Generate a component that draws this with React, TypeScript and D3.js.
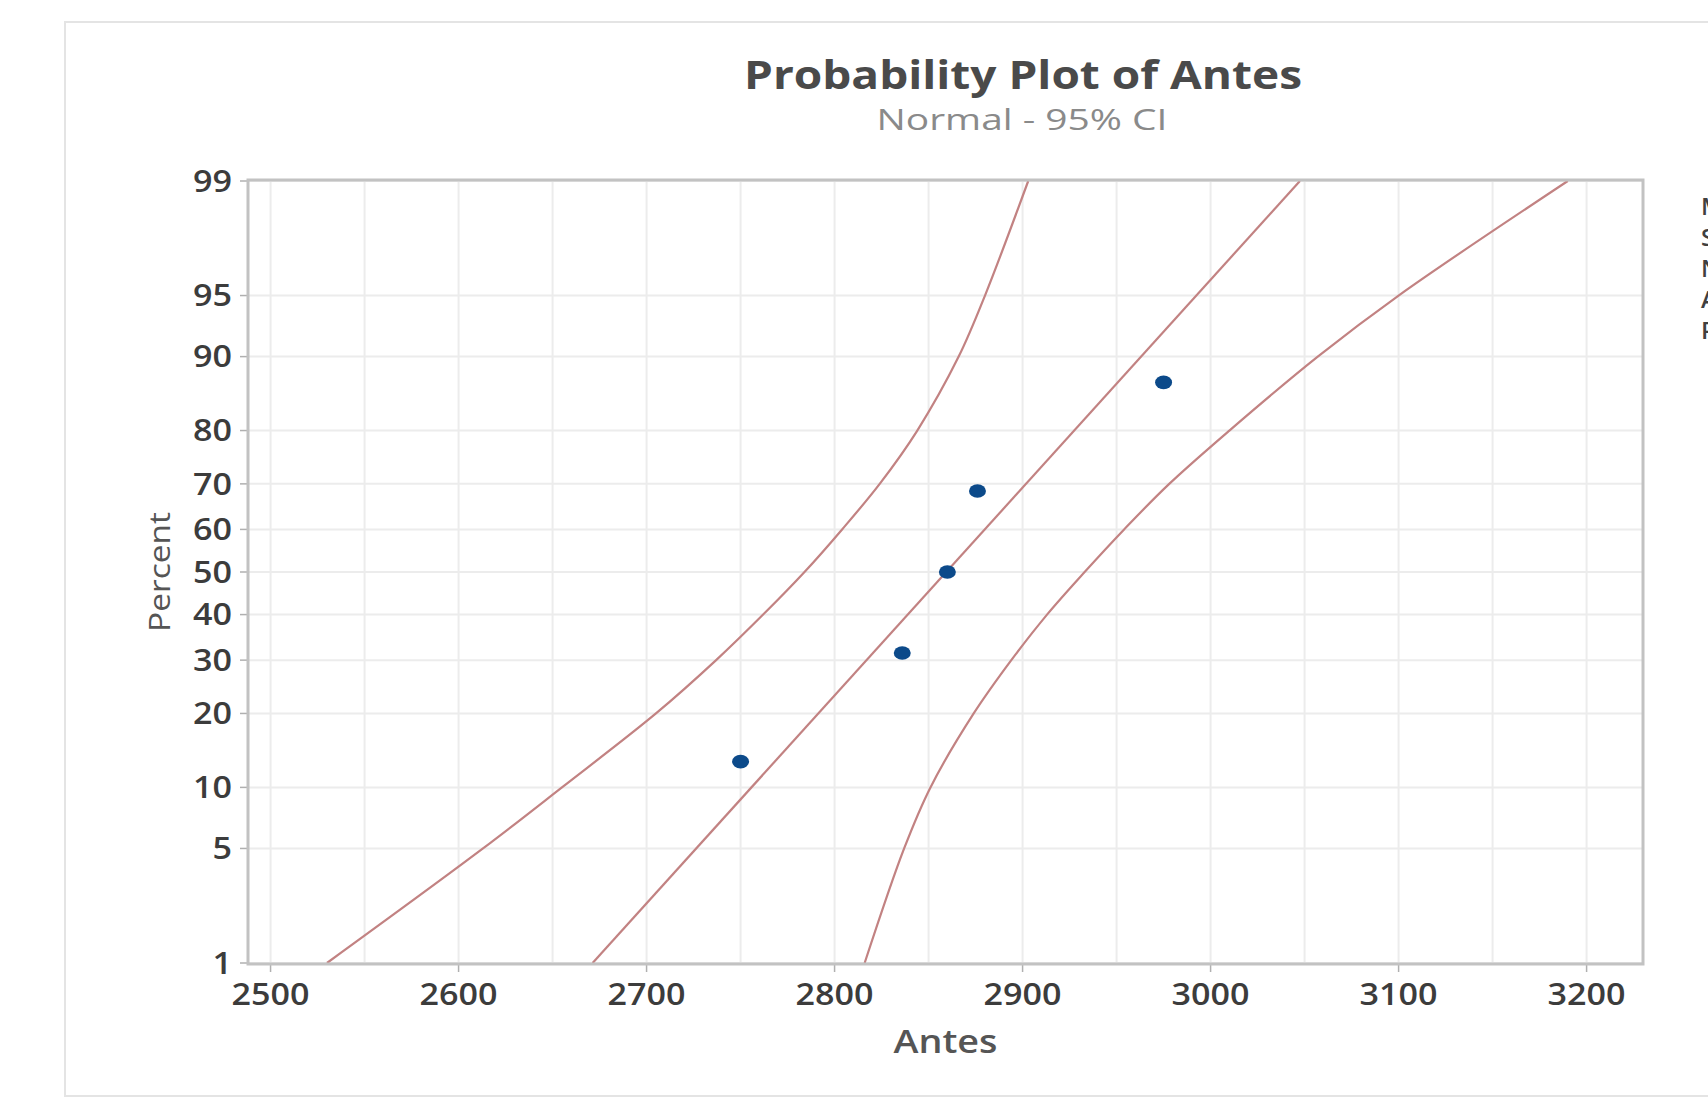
import React, { useEffect, useRef } from 'react';
import * as d3 from 'd3';

// values
const antes = [2750, 2836, 2860, 2876, 2975];
const percentTicks = [1, 5, 10, 20, 30, 40, 50, 60, 70, 80, 90, 95, 99];
const xTicks = [2500, 2600, 2700, 2800, 2900, 3000, 3100, 3200];
const ciPercents = [1, 5, 10, 20, 30, 40, 50, 60, 70, 80, 90, 95, 99];
const ciLower = [2530, 2613, 2655, 2705, 2737, 2762, 2784, 2804, 2824, 2844, 2866, 2880, 2903];
const ciUpper = [2816, 2837, 2851, 2874, 2894, 2913, 2933, 2954, 2978, 3010, 3057, 3100, 3190];
const legendLabels = ['Mean', 'StDev', 'N', 'AD', 'P-Value'];
const legendValues = ['2859', '80.93', '5', '0.303', '0.401'];

// inverse normal cdf (Acklam)
const probit = (p: number) => {
  const a = [-39.6968302866538, 220.946098424521, -275.928510446969, 138.357751867269, -30.6647980661472, 2.50662827745924];
  const b = [-54.4760987982241, 161.585836858041, -155.698979859887, 66.8013118877197, -13.2806815528857];
  const c = [-0.00778489400243029, -0.322396458041136, -2.40075827716184, -2.54973253934373, 4.37466414146497, 2.93816398269878];
  const d = [0.00778469570904146, 0.32246712907004, 2.445134137143, 3.75440866190742];
  const pl = 0.02425;
  let q, r;
  if (p < pl) {
    q = Math.sqrt(-2 * Math.log(p));
    return (((((c[0] * q + c[1]) * q + c[2]) * q + c[3]) * q + c[4]) * q + c[5]) / ((((d[0] * q + d[1]) * q + d[2]) * q + d[3]) * q + 1);
  }
  if (p > 1 - pl) {
    q = Math.sqrt(-2 * Math.log(1 - p));
    return -(((((c[0] * q + c[1]) * q + c[2]) * q + c[3]) * q + c[4]) * q + c[5]) / ((((d[0] * q + d[1]) * q + d[2]) * q + d[3]) * q + 1);
  }
  q = p - 0.5;
  r = q * q;
  return (((((a[0] * r + a[1]) * r + a[2]) * r + a[3]) * r + a[4]) * r + a[5]) * q / (((((b[0] * r + b[1]) * r + b[2]) * r + b[3]) * r + b[4]) * r + 1);
};

const W = 1708, H = 1107;
const margin = { left: 248, right: 1643, top: 180, bottom: 964 };
const font = "'Open Sans', 'Noto Sans', sans-serif";

const draw = (node: SVGSVGElement) => {
  const svg = d3.select(node);
  svg.selectAll('*').remove();

  svg.append('rect').attr('width', W).attr('height', H).attr('fill', '#fff');
  // outer frame
  svg.append('rect')
    .attr('x', 65).attr('y', 22).attr('width', 1700).attr('height', 1074)
    .attr('fill', 'none').attr('stroke', '#e4e4e4').attr('stroke-width', 2);

  const x = d3.scaleLinear().domain([2488, 3230]).range([margin.left, margin.right]);
  const zs = d3.scaleLinear().domain([probit(0.01), probit(0.99)]).range([margin.bottom - 1, margin.top + 1]);
  const y = (p: number) => zs(probit(p / 100));

  svg.append('clipPath').attr('id', 'plotclip')
    .append('rect')
    .attr('x', margin.left).attr('y', margin.top)
    .attr('width', margin.right - margin.left).attr('height', margin.bottom - margin.top);

  // grid
  const grid = svg.append('g');
  const vLines = d3.range(2500, 3230, 50);
  grid.selectAll('line.v').data(vLines).enter().append('line')
    .attr('x1', d => x(d)).attr('x2', d => x(d))
    .attr('y1', margin.top).attr('y2', margin.bottom)
    .attr('stroke', '#ececec').attr('stroke-width', 2);
  grid.selectAll('line.h').data(percentTicks).enter().append('line')
    .attr('x1', margin.left).attr('x2', margin.right)
    .attr('y1', d => y(d)).attr('y2', d => y(d))
    .attr('stroke', '#ececec').attr('stroke-width', 2);

  // axes
  const yAxis = svg.append('g');
  yAxis.selectAll('line').data(percentTicks).enter().append('line')
    .attr('x1', margin.left - 8).attr('x2', margin.left)
    .attr('y1', d => y(d)).attr('y2', d => y(d))
    .attr('stroke', '#b0b0b0').attr('stroke-width', 1.5);
  yAxis.selectAll('text').data(percentTicks).enter().append('text')
    .attr('x', 232).attr('y', d => y(d)).attr('dy', '0.36em')
    .attr('text-anchor', 'end')
    .attr('font-family', font).attr('font-size', 30).attr('font-weight', 600)
    .attr('textLength', d => String(d).length * 19.5).attr('lengthAdjust', 'spacingAndGlyphs')
    .attr('fill', '#3c3c3c')
    .text(d => d);

  const xAxis = svg.append('g');
  xAxis.selectAll('line').data(xTicks).enter().append('line')
    .attr('x1', d => x(d)).attr('x2', d => x(d))
    .attr('y1', margin.bottom).attr('y2', margin.bottom + 8)
    .attr('stroke', '#b0b0b0').attr('stroke-width', 1.5);
  xAxis.selectAll('text').data(xTicks).enter().append('text')
    .attr('x', d => x(d)).attr('y', 1005)
    .attr('text-anchor', 'middle')
    .attr('font-family', font).attr('font-size', 30).attr('font-weight', 600)
    .attr('textLength', 78).attr('lengthAdjust', 'spacingAndGlyphs')
    .attr('fill', '#3c3c3c')
    .text(d => d);

  // fitted line and CI
  const mean = d3.mean(antes) as number;
  const sd = d3.deviation(antes) as number;
  const lineGen = d3.line<{ p: number, v: number }>()
    .x(d => x(d.v)).y(d => y(d.p))
    .curve(d3.curveCatmullRom.alpha(0.5));
  const lines = svg.append('g').attr('clip-path', 'url(#plotclip)');
  const fit = [1, 99].map(p => ({ p, v: mean + sd * probit(p / 100) }));
  const lower = ciPercents.map((p, i) => ({ p, v: ciLower[i] }));
  const upper = ciPercents.map((p, i) => ({ p, v: ciUpper[i] }));
  [fit, lower, upper].forEach(s => {
    lines.append('path').attr('d', lineGen(s))
      .attr('fill', 'none').attr('stroke', '#c28282').attr('stroke-width', 2.2);
  });

  // points (median ranks)
  const n = antes.length;
  const pts = antes.slice().sort(d3.ascending).map((v, i) => ({ v, p: (i + 1 - 0.3) / (n + 0.4) * 100 }));
  svg.append('g').selectAll('ellipse').data(pts).enter().append('ellipse')
    .attr('cx', d => x(d.v)).attr('cy', d => y(d.p))
    .attr('rx', 8.5).attr('ry', 6.8)
    .attr('fill', '#0c4a8a');

  // frame
  svg.append('rect')
    .attr('x', margin.left).attr('y', margin.top)
    .attr('width', margin.right - margin.left).attr('height', margin.bottom - margin.top)
    .attr('fill', 'none').attr('stroke', '#c2c2c2').attr('stroke-width', 3);

  // titles
  svg.append('text').attr('x', 1023).attr('y', 89).attr('text-anchor', 'middle')
    .attr('font-family', font).attr('font-size', 40).attr('font-weight', 700)
    .attr('textLength', 558).attr('lengthAdjust', 'spacingAndGlyphs')
    .attr('fill', '#4a4a4a').text('Probability Plot of Antes');
  svg.append('text').attr('x', 1022).attr('y', 130).attr('text-anchor', 'middle')
    .attr('font-family', font).attr('font-size', 29)
    .attr('textLength', 291).attr('lengthAdjust', 'spacingAndGlyphs')
    .attr('fill', '#8a8a8a').text('Normal - 95% CI');
  svg.append('text').attr('x', (margin.left + margin.right) / 2).attr('y', 1053).attr('text-anchor', 'middle')
    .attr('font-family', font).attr('font-size', 32).attr('font-weight', 600)
    .attr('textLength', 104).attr('lengthAdjust', 'spacingAndGlyphs')
    .attr('fill', '#555').text('Antes');
  svg.append('text').attr('transform', `translate(170,${(margin.top + margin.bottom) / 2}) rotate(-90)`)
    .attr('text-anchor', 'middle')
    .attr('font-family', font).attr('font-size', 30)
    .attr('textLength', 120).attr('lengthAdjust', 'spacingAndGlyphs')
    .attr('fill', '#555').text('Percent');

  // legend (cut off by the right edge, as in the original)
  const leg = svg.append('g');
  legendLabels.forEach((l, i) => {
    leg.append('text').attr('x', 1701).attr('y', 215 + i * 31)
      .attr('font-family', font).attr('font-size', 24).attr('font-weight', 600)
      .attr('fill', '#404040').text(l);
    leg.append('text').attr('x', 1800).attr('y', 215 + i * 31)
      .attr('font-family', font).attr('font-size', 24)
      .attr('fill', '#404040').text(legendValues[i]);
  });
};

const App = () => {
  const ref = useRef<SVGSVGElement>(null);
  useEffect(() => {
    if (ref.current) draw(ref.current);
  }, []);
  return (
    <svg ref={ref} width={W} height={H}
      style={{ position: 'absolute', left: 0, top: 0, display: 'block' }} />
  );
};

export default App;
